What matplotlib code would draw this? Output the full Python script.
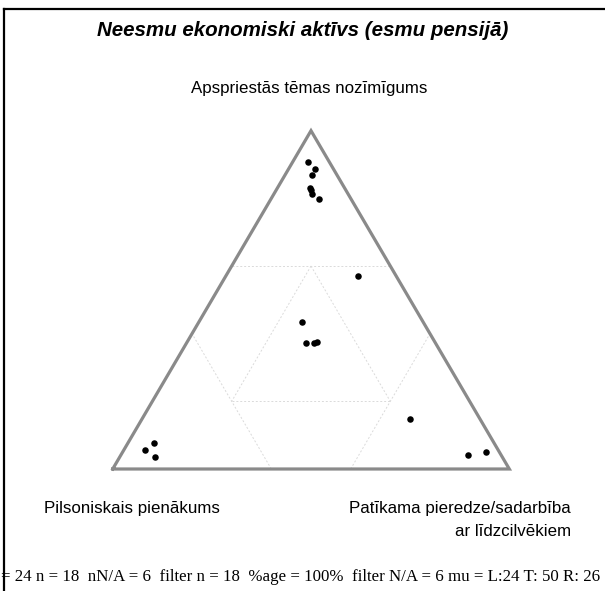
import numpy as np
import matplotlib
matplotlib.use('Agg')
import matplotlib.pyplot as plt
from matplotlib.lines import Line2D

# ---------------------------- data (barycentric, %)
leftVals  = [5.3, 4.6, 6.3, 8.6, 8.7, 9.1, 8.1, 9.6, 30.4, 32.5, 30.6, 29.9, 17.7, 8.3, 3.5, 85.8, 88.9, 87.5]
topVals   = [90.8, 88.6, 86.8, 83.1, 82.5, 81.4, 79.9, 57.0, 43.5, 37.3, 37.2, 37.5, 14.7, 4.0, 5.0, 7.8, 5.7, 3.6]
rightVals = [3.9, 6.8, 6.9, 8.3, 8.8, 9.5, 12.0, 33.4, 26.1, 30.2, 32.2, 32.7, 67.6, 87.7, 91.5, 6.4, 5.4, 8.9]

title = 'Neesmu ekonomiski aktīvs (esmu pensijā)'
topLabel = 'Apspriestās tēmas nozīmīgums'
leftLabel = 'Pilsoniskais pienākums'
rightLabel = 'Patīkama pieredze/sadarbība\nar līdzcilvēkiem'
footer = '= 24 n = 18  nN/A = 6  filter n = 18  %age = 100%  filter N/A = 6 mu = L:24 T: 50 R: 26'

# guide segments as pairs of (l, t, r) points
gridSegs = [
    ((0.4, 0.6, 0.0), (0.0, 0.6, 0.4)),
    ((0.6, 0.2, 0.2), (0.2, 0.2, 0.6)),
    ((0.6, 0.0, 0.4), (0.6, 0.4, 0.0)),
    ((0.4, 0.0, 0.6), (0.0, 0.4, 0.6)),
    ((0.2, 0.6, 0.2), (0.6, 0.2, 0.2)),
    ((0.2, 0.6, 0.2), (0.2, 0.2, 0.6)),
]

H = np.sqrt(3) / 2


def toXY(l, t, r):
    tot = l + t + r
    l, t, r = l / tot, t / tot, r / tot
    return r + t / 2.0, t * H


W, Hpx = 605, 591
fig = plt.figure(figsize=(W / 100, Hpx / 100), dpi=100)
ax = fig.add_axes([0, 0, 1, 1])
ax.axis('off')

# triangle geometry in pixels: left (112.7, 469), right (509.3, 469), apex y 130.7
x0, xw = 112.7, 396.6
yb, yh = 469.0, 338.3
ax.set_xlim(-x0 / xw, (W - x0) / xw)
ax.set_ylim((yb - Hpx) / yh * H, yb / yh * H)

for a, b in gridSegs:
    p1 = toXY(*a)
    p2 = toXY(*b)
    ax.plot([p1[0], p2[0]], [p1[1], p2[1]], color='#dadada', lw=0.7, ls=(0, (2, 2)))

ax.plot([0, 1, 0.5, 0], [0, 0, H, 0], color='#8a8a8a', lw=2.3, solid_joinstyle='miter')

xs, ys = toXY(np.array(leftVals), np.array(topVals), np.array(rightVals))
ax.scatter(xs, ys, s=22, color='black', zorder=3, linewidths=0)

sans = 'Liberation Sans'
fig.text(303 / W, 1 - 31 / Hpx, title, ha='center', va='center', fontsize=14.8,
         fontweight='bold', fontstyle='italic', family=sans)
fig.text(309 / W, 1 - 88 / Hpx, topLabel, ha='center', va='center', fontsize=12.2, family=sans)
fig.text(132 / W, 1 - 508 / Hpx, leftLabel, ha='center', va='center', fontsize=12.2, family=sans)
fig.text(571 / W, 1 - 520 / Hpx, rightLabel, ha='right', va='center', fontsize=12.2,
         family=sans, linespacing=1.6, multialignment='right')
fig.text(1 / W, 1 - 577 / Hpx, footer, ha='left', va='center', fontsize=12.2,
         family='Liberation Serif')

# frame (only top and left visible)
fig.add_artist(Line2D([3.5 / W, 3.5 / W], [0, 1 - 9 / Hpx], color='black', lw=1.6,
                      transform=fig.transFigure))
fig.add_artist(Line2D([3.5 / W, 1], [1 - 9 / Hpx, 1 - 9 / Hpx], color='black', lw=1.6,
                      transform=fig.transFigure))

fig.savefig('out.png', dpi=100, facecolor='white')
plt.close(fig)
